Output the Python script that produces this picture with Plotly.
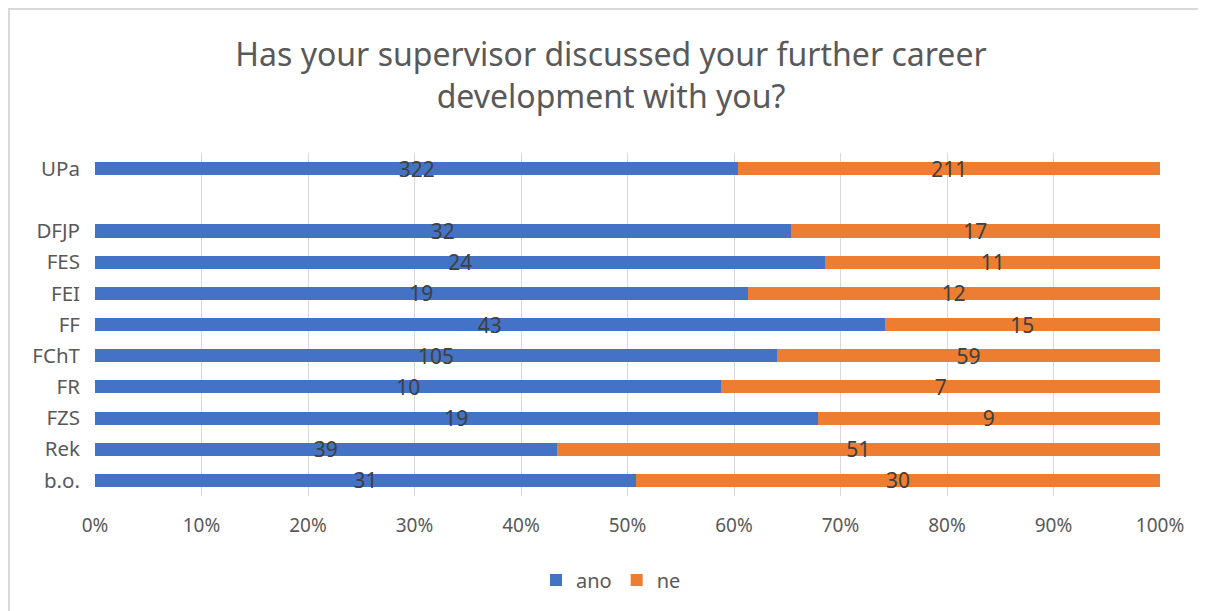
import plotly.graph_objects as go

categories = ["b.o.", "Rek", "FZS", "FR", "FChT", "FF", "FEI", "FES", "DFJP", " ", "UPa"]
ano = [31, 39, 19, 10, 105, 43, 19, 24, 32, None, 322]
ne = [30, 51, 9, 7, 59, 15, 12, 11, 17, None, 211]
x_ticks = [0, 10, 20, 30, 40, 50, 60, 70, 80, 90, 100]
x_tick_labels = [f"{v}%" for v in x_ticks]

FONT = "Noto Sans"
OFF = 8  # page body margin
W, H = 1206 - OFF, 611 - OFF
L, T = 95 - OFF, 153 - OFF
PR, PB = 1160 - OFF, 496 - OFF
R, B = W - PR, H - PB
pw, ph = PR - L, PB - T

fig = go.Figure()
for name, vals, col in [("ano", ano, "#4472C4"), ("ne", ne, "#ED7D31")]:
    fig.add_trace(go.Bar(
        y=categories, x=vals, name=name, orientation="h",
        marker=dict(color=col, line=dict(width=0)),
        text=[("" if v is None else str(v)) for v in vals],
        textposition="inside", insidetextanchor="middle",
        constraintext="none", textangle=0,
        textfont=dict(family=FONT, size=21, color="#404040"),
        cliponaxis=False, hoverinfo="skip",
    ))

fig.update_layout(
    width=W, height=H,
    barmode="stack", barnorm="percent", bargap=0.58,
    margin=dict(l=L, r=R, t=T, b=B, autoexpand=False),
    paper_bgcolor="white", plot_bgcolor="white",
    font=dict(family=FONT, color="#595959"),
    title=dict(
        text="Has your supervisor discussed your further career<br>development with you?",
        x=(611 - 95) / (1160 - 95), xref="paper", xanchor="center",
        y=1 - 58 / H, yref="container", yanchor="top",
        font=dict(family=FONT, size=32, color="#595959"),
    ),
    xaxis=dict(
        range=[0, 100], tickvals=x_ticks, ticktext=x_tick_labels,
        showgrid=True, gridcolor="#d9d9d9", gridwidth=1,
        zeroline=False, showline=False, ticks="",
        tickfont=dict(family=FONT, size=19, color="#595959"),
        ticklabelstandoff=16, fixedrange=True,
    ),
    yaxis=dict(
        type="category", categoryorder="array", categoryarray=categories,
        range=[-0.5, len(categories) - 0.5],
        showgrid=False, zeroline=False, showline=False, ticks="",
        tickfont=dict(family=FONT, size=20.5, color="#595959"),
        ticklabelstandoff=14, fixedrange=True,
    ),
    legend=dict(
        orientation="h", x=(611 - 95) / (1160 - 95), xanchor="center",
        y=(496 - 580) / ph, yanchor="middle",
        font=dict(family=FONT, size=20, color="#595959"),
        itemsizing="constant", traceorder="normal",
    ),
    shapes=[dict(
        type="rect", xref="paper", yref="paper",
        x0=(1 - L) / pw, x1=(1230 - L) / pw,
        y0=(PB - 640) / ph, y1=(PB - 1) / ph,
        line=dict(color="#d9d9d9", width=2), fillcolor="rgba(0,0,0,0)",
        layer="below",
    )],
)

fig.write_html("out.html")
